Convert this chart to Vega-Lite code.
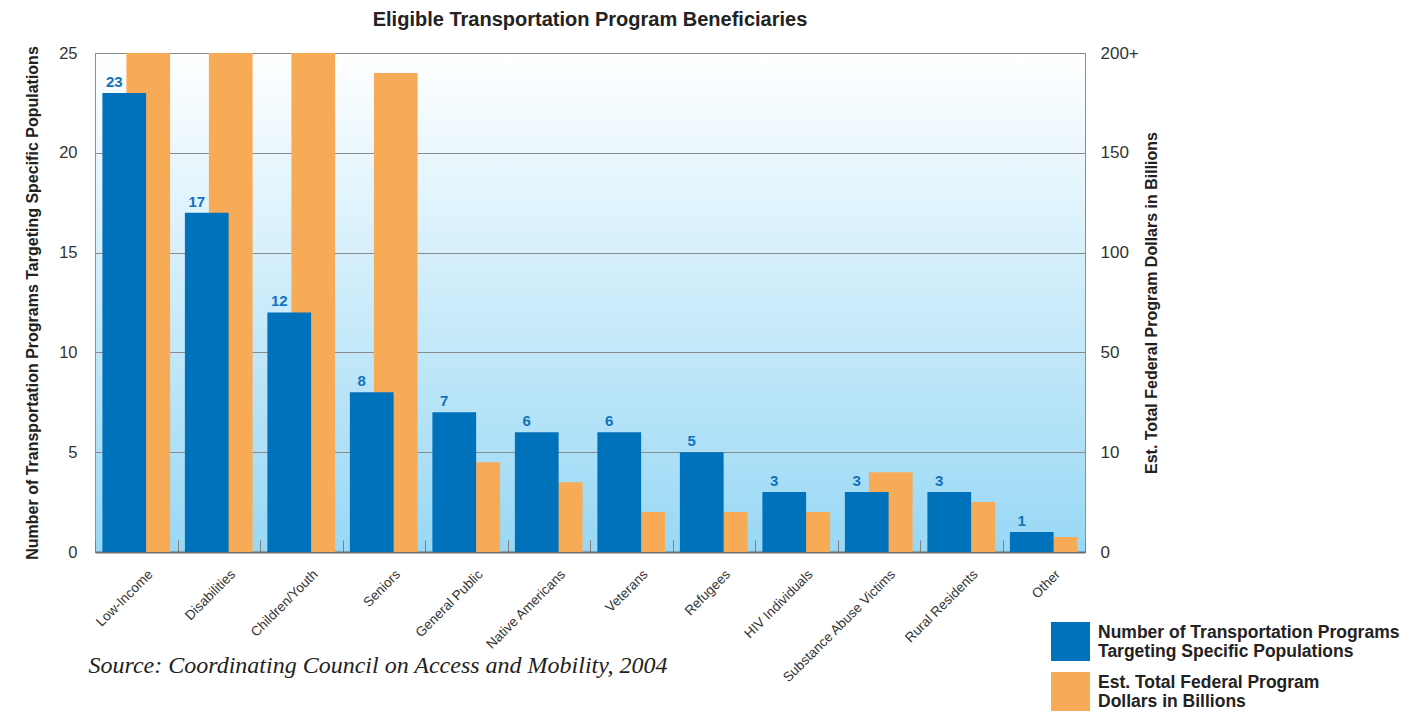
{
  "$schema": "https://vega.github.io/schema/vega-lite/v6.json",
  "width": 990,
  "height": 499,
  "autosize": {"type": "none"},
  "padding": {"left": 95, "top": 53, "right": 339, "bottom": 162},
  "title": {
    "text": "Eligible Transportation Program Beneficiaries",
    "fontSize": 20,
    "fontWeight": "bold",
    "font": "Liberation Sans",
    "color": "#222222",
    "offset": 14,
    "anchor": "middle"
  },
  "config": {
    "font": "Liberation Sans",
    "view": {
      "stroke": "#8f8f8f",
      "strokeWidth": 1,
      "fill": {
        "gradient": "linear",
        "x1": 0, "y1": 0, "x2": 0, "y2": 1,
        "stops": [
          {"offset": 0, "color": "#ffffff"},
          {"offset": 1, "color": "#98d8f5"}
        ]
      }
    }
  },
  "data": {
    "values": [
      {"category": "Low-Income", "series": "Number of Transportation Programs Targeting Specific Populations", "value": 23},
      {"category": "Disabilities", "series": "Number of Transportation Programs Targeting Specific Populations", "value": 17},
      {"category": "Children/Youth", "series": "Number of Transportation Programs Targeting Specific Populations", "value": 12},
      {"category": "Seniors", "series": "Number of Transportation Programs Targeting Specific Populations", "value": 8},
      {"category": "General Public", "series": "Number of Transportation Programs Targeting Specific Populations", "value": 7},
      {"category": "Native Americans", "series": "Number of Transportation Programs Targeting Specific Populations", "value": 6},
      {"category": "Veterans", "series": "Number of Transportation Programs Targeting Specific Populations", "value": 6},
      {"category": "Refugees", "series": "Number of Transportation Programs Targeting Specific Populations", "value": 5},
      {"category": "HIV Individuals", "series": "Number of Transportation Programs Targeting Specific Populations", "value": 3},
      {"category": "Substance Abuse Victims", "series": "Number of Transportation Programs Targeting Specific Populations", "value": 3},
      {"category": "Rural Residents", "series": "Number of Transportation Programs Targeting Specific Populations", "value": 3},
      {"category": "Other", "series": "Number of Transportation Programs Targeting Specific Populations", "value": 1},
      {"category": "Low-Income", "series": "Est. Total Federal Program Dollars in Billions", "value": 200},
      {"category": "Disabilities", "series": "Est. Total Federal Program Dollars in Billions", "value": 200},
      {"category": "Children/Youth", "series": "Est. Total Federal Program Dollars in Billions", "value": 200},
      {"category": "Seniors", "series": "Est. Total Federal Program Dollars in Billions", "value": 190},
      {"category": "General Public", "series": "Est. Total Federal Program Dollars in Billions", "value": 9},
      {"category": "Native Americans", "series": "Est. Total Federal Program Dollars in Billions", "value": 7},
      {"category": "Veterans", "series": "Est. Total Federal Program Dollars in Billions", "value": 4},
      {"category": "Refugees", "series": "Est. Total Federal Program Dollars in Billions", "value": 4},
      {"category": "HIV Individuals", "series": "Est. Total Federal Program Dollars in Billions", "value": 4},
      {"category": "Substance Abuse Victims", "series": "Est. Total Federal Program Dollars in Billions", "value": 8},
      {"category": "Rural Residents", "series": "Est. Total Federal Program Dollars in Billions", "value": 5},
      {"category": "Other", "series": "Est. Total Federal Program Dollars in Billions", "value": 1.5}
    ]
  },
  "encoding": {
    "x": {
      "field": "category",
      "type": "nominal",
      "sort": null,
      "scale": {"paddingInner": 0, "paddingOuter": 0},
      "axis": {
        "title": "Source: Coordinating Council on Access and Mobility, 2004",
        "titleFont": "Liberation Serif",
        "titleFontStyle": "italic",
        "titleFontWeight": "normal",
        "titleFontSize": 24,
        "titleColor": "#222222",
        "titleX": -7,
        "titleY": 120,
        "titleAlign": "left",
        "titleBaseline": "alphabetic",
        "titleAnchor": "start",
        "labelAngle": -45,
        "labelAlign": "right",
        "labelBaseline": "top",
        "labelFontSize": 13.5,
        "labelColor": "#333333",
        "labelOffset": 9,
        "labelPadding": 27,
        "tickBand": "extent",
        "tickSize": -12,
        "tickColor": "#808080",
        "domainColor": "#6d6d6d",
        "domainWidth": 2
      }
    },
    "color": {
      "field": "series",
      "type": "nominal",
      "scale": {
        "domain": ["Number of Transportation Programs Targeting Specific Populations", "Est. Total Federal Program Dollars in Billions"],
        "range": ["#0071bb", "#f8ab57"]
      },
      "legend": {
        "orient": "none",
        "legendX": 956,
        "legendY": 569,
        "title": null,
        "padding": 0,
        "direction": "vertical",
        "symbolType": "square",
        "symbolSize": 1521,
        "symbolStrokeWidth": 0,
        "symbolOpacity": 1,
        "labelFontSize": 17.5,
        "labelFontWeight": "bold",
        "labelColor": "#222222",
        "labelLimit": 400,
        "labelOffset": 8,
        "labelBaseline": "bottom",
        "rowPadding": 11,
        "labelExpr": "datum.label == 'Number of Transportation Programs Targeting Specific Populations' ? ['Number of Transportation Programs', 'Targeting Specific Populations'] : ['Est. Total Federal Program', 'Dollars in Billions']"
      }
    }
  },
  "layer": [
    {
      "transform": [{"filter": "datum.series == 'Est. Total Federal Program Dollars in Billions'"}],
      "mark": {"type": "bar", "width": {"band": 0.53}, "xOffset": 12},
      "encoding": {
        "y": {
          "field": "value",
          "type": "quantitative",
          "scale": {
            "domain": [0, 10, 50, 200],
            "range": [{"expr": "height"}, {"expr": "height*0.8"}, {"expr": "height*0.6"}, 0],
            "clamp": true
          },
          "axis": {
            "orient": "right",
            "title": "Est. Total Federal Program Dollars in Billions",
            "titleAngle": -90,
            "titleBaseline": "top",
            "titleFontSize": 16,
            "titleFontWeight": "bold",
            "titleColor": "#222222",
            "titlePadding": 5,
            "values": [0, 10, 50, 100, 150, 200],
            "labelExpr": "datum.value == 200 ? '200+' : datum.label",
            "labelFontSize": 17,
            "labelColor": "#333333",
            "labelPadding": 15,
            "ticks": false,
            "domain": false,
            "grid": false
          }
        }
      }
    },
    {
      "transform": [{"filter": "datum.series == 'Number of Transportation Programs Targeting Specific Populations'"}],
      "encoding": {
        "y": {
          "field": "value",
          "type": "quantitative",
          "scale": {"domain": [0, 25], "nice": false},
          "axis": {
            "orient": "left",
            "title": "Number of Transportation Programs Targeting Specific Populations",
            "titleFontSize": 16,
            "titleFontWeight": "bold",
            "titleColor": "#222222",
            "titlePadding": 18,
            "values": [0, 5, 10, 15, 20, 25],
            "labelFontSize": 16.5,
            "labelColor": "#333333",
            "labelPadding": 18,
            "ticks": false,
            "domain": false,
            "grid": true,
            "gridColor": "#8a8a8a",
            "gridWidth": 1
          }
        }
      },
      "layer": [
        {
          "mark": {"type": "bar", "width": {"band": 0.53}, "xOffset": -12}
        },
        {
          "mark": {"type": "text", "xOffset": -22, "baseline": "bottom", "dy": -3, "fontSize": 15, "fontWeight": "bold", "color": "#1272bc"},
          "encoding": {
            "text": {"field": "value", "type": "quantitative"},
            "color": {"value": "#1272bc"}
          }
        }
      ]
    }
  ],
  "resolve": {"scale": {"y": "independent"}}
}
